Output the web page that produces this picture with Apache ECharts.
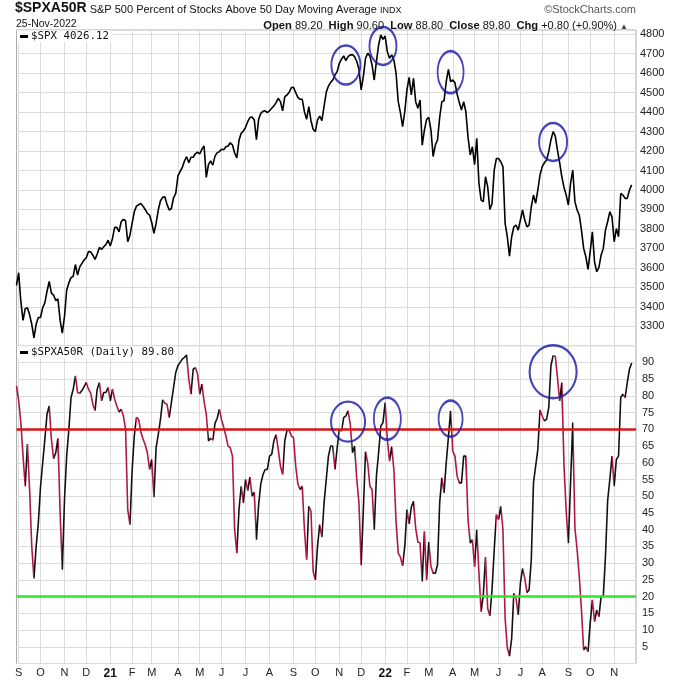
<!DOCTYPE html>
<html>
<head>
<meta charset="utf-8">
<script src="https://cdn.jsdelivr.net/npm/echarts/dist/echarts.min.js"></script>
<style>
html,body{margin:0;padding:0;background:#fff;}
#chart{width:680px;height:680px;}
</style>
</head>
<body>
<div id="chart"></div>
<script>
// ---------- DATA ----------
const monthLabels = ['S','O','N','D','21','F','M','A','M','J','J','A','S','O','N','D','22','F','M','A','M','J','J','A','S','O','N'];
const monthTradingDays = [21,22,20,22,19,19,23,21,20,22,21,22,21,21,21,22,20,19,23,20,21,21,20,23,21,21,18];
const leadTradingDays = 2;      // Aug 28 & Aug 31, 2020
const sampleStep = 2;           // one value every 2 trading days
const padSamples = 2;           // empty space right of last value

const spxTicks = [3300,3400,3500,3600,3700,3800,3900,4000,4100,4200,4300,4400,4500,4600,4700,4800];
const pctTicks = [5,10,15,20,25,30,35,40,45,50,55,60,65,70,75,80,85,90];

const spxValues = [
3510,3575,3426,3330,3390,3395,3360,3310,3240,3310,3345,3345,3395,3420,3480,3530,3470,3460,3432,3440,
3330,3265,3350,3485,3523,3550,3557,3617,3563,3605,3623,3640,3652,3684,3682,3665,3643,3671,3705,3695,
3708,3720,3742,3712,3751,3808,3808,3785,3837,3849,3842,3734,3768,3828,3888,3917,3924,3931,3917,3900,
3880,3871,3833,3777,3828,3897,3945,3962,3965,3926,3897,3905,3960,3982,4072,4094,4116,4149,4171,4140,
4168,4168,4186,4195,4185,4209,4226,4065,4130,4150,4128,4174,4192,4197,4209,4207,4222,4226,4243,4231,
4190,4165,4255,4291,4303,4322,4351,4372,4375,4360,4258,4363,4394,4404,4407,4397,4407,4420,4432,4449,
4471,4454,4407,4480,4488,4502,4526,4528,4500,4476,4466,4466,4402,4363,4428,4356,4312,4300,4360,4380,
4356,4430,4502,4534,4553,4565,4591,4608,4651,4672,4689,4665,4685,4694,4695,4685,4660,4620,4514,4582,
4677,4702,4689,4642,4565,4660,4745,4797,4774,4791,4711,4677,4694,4668,4600,4454,4397,4325,4402,4514,
4579,4488,4574,4454,4420,4462,4230,4308,4363,4373,4308,4172,4231,4257,4373,4454,4459,4557,4620,4557,
4565,4551,4493,4449,4411,4454,4402,4270,4180,4222,4130,4265,4034,3948,3940,4068,4017,3900,3931,4102,
4162,4162,4145,4120,3828,3760,3660,3760,3811,3820,3794,3846,3897,3846,3811,3820,3914,3974,3931,4000,
4077,4120,4140,4154,4197,4257,4300,4277,4205,4140,4068,4013,3974,3923,4034,4102,3940,3897,3871,3794,
3700,3657,3592,3683,3785,3631,3580,3602,3665,3700,3794,3837,3888,3862,3734,3802,3760,3982,3974,3957,
3957,4000,4026
];

const pctValues = [
83,78.6,72,62,53,65.6,52,35,25.4,35,42,52.7,60,67,74.6,77,67,61.2,63,67.3,
45,28,49,62,70,79.5,82,86,81,80.8,81.6,82.8,84,82,80.8,77.5,75.6,82,84,78.5,
81,81,82.5,78.5,82,79,77,75.2,76,74,70,46,41.5,57.7,68,73.6,73,69.3,67.1,65.4,
63,58,61,49.7,64.5,68.5,73,78.8,77.8,77.5,73.5,78,82.5,87,89,90,91,91.5,92.2,85,
80.5,88,88.4,86.6,80.5,83.5,78.3,74.5,66.5,67.3,66.8,71.8,73.3,76,72.8,70.6,68,65,64.5,62,
40,33,46,53,48,55,51.7,55.7,50,51.2,37,47.5,53.7,56.5,58,58,62,62.5,66.6,68.4,
64,59,56.5,66.6,69.7,69.8,68,67.5,59,53.7,52,53,40,31,47,45.5,27.5,25,35,41.5,
37.8,48,55,62,65,65,58,64.5,70,69.5,73.5,74,75.5,71.6,63,65,55,48,29.4,45.8,
63.3,60,53,52,40,56,63,71,72,78,67,60.5,64.8,58,42.5,33,31.8,29.2,35,46,
41.7,46.8,48.5,40.5,36.3,36,24.5,39.5,25,36.3,29,27,27,29.5,48,55.5,51,60,67.6,75.5,
63.5,62,56,54,54,62,62,43,36,37,28.9,40,27,15.5,20.5,31.8,16.5,14.2,22,34,
44.5,43,47,40,13.5,4.7,2.2,7.5,21,19.5,14.5,24,28.4,25.5,21.2,22,31,54,59,64,
75.8,74,72.5,73,76.5,89,92,91.8,85.5,78.5,84,59,45.5,36,54,72,40.5,34,26,16,
4,5,3.5,12,19,12.5,16,14,20,20,32,48.7,55,62,53,61,62,79.5,80.5,79.5,
84,88,89.8
];

const refLevels = [70, 20];
// annotation ellipses: [sample index, value]
const spxCircles = [[151,4642],[168,4740],[199,4606],[246,4247]];
const pctCircles = [[152,72.3],[170,73.2],[199,73.2],[246,87.2]];

const titleSymbol = '$SPXA50R';
const titleName = 'S&P 500 Percent of Stocks Above 50 Day Moving Average';
const titleExchange = 'INDX';
const chartDate = '25-Nov-2022';
const quoteLabels = ['Open','High','Low','Close','Chg'];
const quoteValues = ['89.20','90.60','88.80','89.80','+0.80 (+0.90%)'];
const spxLegend = ['$SPX', '4026.12'];
const pctLegend = ['$SPXA50R (Daily)', '89.80'];

// ---------- STYLE ----------
const spxCircleSizes = [[29,39],[27,38],[26,42],[28,38]];
const pctCircleSizes = [[34,40],[27,42],[24,36],[47,53]];
const refColors = ['#d71515', '#2ee62e'];
const upColor = '#111111';
const downColor = '#b01743';
const circleColor = '#1616a8';
const gridColor = '#dcdcdc';
const FONT = '"Liberation Sans", Arial, sans-serif';
const MONO = '"DejaVu Sans Mono", monospace';

// ---------- BUILD ----------
const N = spxValues.length + padSamples;
const cats = Array.from({length: N}, (_, i) => String(i));
const labelAt = {};
let d = leadTradingDays;
monthLabels.forEach((lab, i) => {
  labelAt[Math.round((d - 1) / sampleStep)] = lab;
  d += monthTradingDays[i];
});
const isMonth = (idx) => labelAt[idx] !== undefined;

const pieces = [{lte: 0, color: downColor}];
for (let k = 1; k < pctValues.length; k++) {
  pieces.push({gt: k - 1, lte: k, color: pctValues[k] >= pctValues[k - 1] ? upColor : downColor});
}
pieces.push({gt: pctValues.length - 1, color: upColor});

const spxTickSet = new Set(spxTicks);
const pctTickSet = new Set(pctTicks);

const quoteText = quoteLabels.map((l, i) => '{l|' + l + '} {v|' + quoteValues[i] + '}').join('  ') + ' {t|▲}';

const chart = echarts.init(document.getElementById('chart'), null, {renderer: 'canvas'});
chart.setOption({
  animation: false,
  backgroundColor: '#fff',
  textStyle: {fontFamily: FONT},
  title: [
    {
      left: 15, top: 1, padding: 0,
      text: '{a|' + titleSymbol + '} {b|' + titleName + '} {c|' + titleExchange + '}',
      textStyle: {fontWeight: 'normal', fontSize: 11, lineHeight: 14, rich: {
        a: {fontSize: 14, fontWeight: 'bold', fontFamily: FONT, color: '#111', verticalAlign: 'bottom', lineHeight: 14},
        b: {fontSize: 11, fontWeight: 'normal', fontFamily: FONT, color: '#111', verticalAlign: 'bottom', lineHeight: 12},
        c: {fontSize: 9, fontWeight: 'normal', fontFamily: FONT, color: '#111', verticalAlign: 'bottom', lineHeight: 11}
      }}
    },
    {
      right: 44, top: 4, padding: 0, text: '©StockCharts.com',
      textStyle: {fontSize: 11, fontFamily: FONT, color: '#555', fontWeight: 'normal'}
    },
    {
      left: 16, top: 18.5, padding: 0, text: chartDate,
      textStyle: {fontSize: 10.5, fontFamily: FONT, color: '#111', fontWeight: 'normal'}
    },
    {
      right: 52, top: 18, padding: 0, text: quoteText,
      textStyle: {fontWeight: 'normal', fontSize: 11, lineHeight: 13, rich: {
        l: {fontSize: 11.2, fontWeight: 'bold', fontFamily: FONT, color: '#111', verticalAlign: 'bottom', lineHeight: 13},
        v: {fontSize: 11, fontWeight: 'normal', fontFamily: FONT, color: '#111', verticalAlign: 'bottom', lineHeight: 13},
        t: {fontSize: 8, fontWeight: 'normal', fontFamily: FONT, color: '#444', verticalAlign: 'bottom', lineHeight: 11}
      }}
    },
    {
      left: 17, top: 30.5, padding: [0, 3, 0, 3], backgroundColor: '#fff',
      text: '{bar|} {t|' + spxLegend.join(' ') + '}',
      textStyle: {fontWeight: 'normal', fontSize: 11, lineHeight: 12, rich: {
        bar: {width: 8, height: 3, backgroundColor: '#000'},
        t: {fontSize: 10.8, fontWeight: 'normal', fontFamily: MONO, color: '#111', lineHeight: 12}
      }}
    },
    {
      left: 17, top: 346.5, padding: [0, 3, 0, 3], backgroundColor: '#fff',
      text: '{bar|} {t|' + pctLegend.join(' ') + '}',
      textStyle: {fontWeight: 'normal', fontSize: 11, lineHeight: 12, rich: {
        bar: {width: 8, height: 3, backgroundColor: '#000'},
        t: {fontSize: 10.8, fontWeight: 'normal', fontFamily: MONO, color: '#111', lineHeight: 12}
      }}
    }
  ],
  grid: [
    {left: 16.5, right: 44, top: 30, height: 315.7, show: true, borderColor: '#aaa', borderWidth: 1, backgroundColor: '#fff'},
    {left: 16.5, right: 44, top: 345.7, height: 317.8, show: true, borderColor: '#aaa', borderWidth: 1, backgroundColor: '#fff'}
  ],
  xAxis: [
    {
      type: 'category', gridIndex: 0, data: cats, boundaryGap: false,
      axisLine: {show: false}, axisTick: {show: false}, axisLabel: {show: false},
      splitLine: {show: true, interval: isMonth, lineStyle: {color: gridColor, width: 1}}
    },
    {
      type: 'category', gridIndex: 1, data: cats, boundaryGap: false,
      axisLine: {show: false}, axisTick: {show: false},
      axisLabel: {
        show: true, interval: isMonth, margin: 4, fontSize: 11, fontFamily: FONT, color: '#222',
        formatter: (v) => {
          const lab = labelAt[Number(v)];
          if (lab === undefined) return '';
          return /\d/.test(lab) ? '{b|' + lab + '}' : lab;
        },
        rich: {b: {fontWeight: 'bold', fontSize: 12, fontFamily: FONT, color: '#111'}}
      },
      splitLine: {show: true, interval: isMonth, lineStyle: {color: gridColor, width: 1}}
    }
  ],
  yAxis: [
    {
      type: 'value', gridIndex: 0, position: 'right', min: 3200, max: 4822, interval: 100,
      axisLine: {show: false}, axisTick: {show: false},
      axisLabel: {margin: 4, fontSize: 11, fontFamily: FONT, color: '#222',
        formatter: v => spxTickSet.has(v) ? String(v) : ''},
      splitLine: {show: true, lineStyle: {color: gridColor, width: 1}}
    },
    {
      type: 'value', gridIndex: 1, position: 'right', min: 0, max: 95, interval: 5,
      axisLine: {show: false}, axisTick: {show: false},
      axisLabel: {margin: 6, fontSize: 11, fontFamily: FONT, color: '#222',
        formatter: v => pctTickSet.has(v) ? String(v) : ''},
      splitLine: {show: true, lineStyle: {color: gridColor, width: 1}}
    }
  ],
  visualMap: [{
    type: 'piecewise', show: false, dimension: 0, seriesIndex: 1, pieces: pieces
  }],
  series: [
    {
      type: 'line', xAxisIndex: 0, yAxisIndex: 0, data: spxValues,
      symbol: 'none', lineStyle: {color: '#000', width: 1.6}, z: 3
    },
    {
      type: 'line', xAxisIndex: 1, yAxisIndex: 1, data: pctValues,
      symbol: 'none', lineStyle: {width: 1.6}, z: 3,
      markLine: {
        silent: true, symbol: 'none', label: {show: false}, animation: false,
        data: refLevels.map((lv, i) => ({yAxis: lv, lineStyle: {color: refColors[i], width: 2.6, type: 'solid'}}))
      }
    },
    {
      type: 'scatter', xAxisIndex: 0, yAxisIndex: 0, z: 5, silent: true,
      data: spxCircles.map((c, i) => ({value: c, symbolSize: spxCircleSizes[i]})),
      symbol: 'circle',
      itemStyle: {color: 'rgba(0,0,0,0)', borderColor: circleColor, borderWidth: 2.2}
    },
    {
      type: 'scatter', xAxisIndex: 1, yAxisIndex: 1, z: 5, silent: true,
      data: pctCircles.map((c, i) => ({value: c, symbolSize: pctCircleSizes[i]})),
      symbol: 'circle',
      itemStyle: {color: 'rgba(0,0,0,0)', borderColor: circleColor, borderWidth: 2.2}
    }
  ]
});
</script>
</body>
</html>
